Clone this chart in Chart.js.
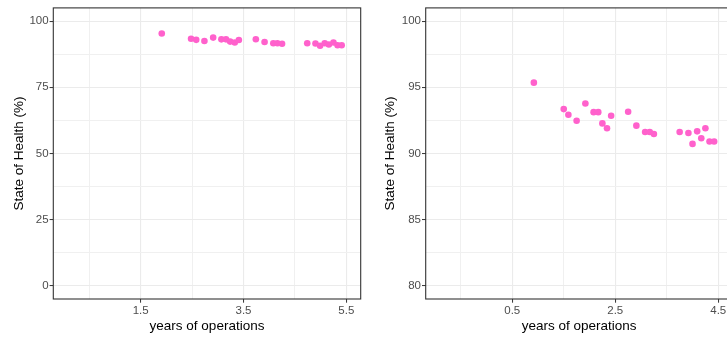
<!DOCTYPE html>
<html>
<head>
<meta charset="utf-8">
<script src="https://cdn.jsdelivr.net/npm/chart.js@4/dist/chart.umd.min.js"></script>
<style>
    html, body { margin: 0; padding: 0; background: #fff; overflow: hidden; }
    .panel { position: absolute; top: 0; height: 339px; }
    #leftPanel { left: 0; width: 364px; }
    #rightPanel { left: 364px; width: 372px; }
</style>
</head>
<body>
<div class="panel" id="leftPanel"><canvas id="leftChart"></canvas></div>
<div class="panel" id="rightPanel"><canvas id="rightChart"></canvas></div>
<script>
// years of operations
const leftYears = [1.91, 2.48, 2.58, 2.74, 2.91, 3.07, 3.16, 3.24, 3.33, 3.41, 3.74, 3.91,
    4.08, 4.16, 4.25, 4.74, 4.90, 4.99, 5.08, 5.16, 5.25, 5.33, 5.41];
const rightYears = [0.92, 1.50, 1.59, 1.75, 1.92, 2.08, 2.17, 2.25, 2.34, 2.42, 2.75, 2.91,
    3.08, 3.17, 3.25, 3.75, 3.92, 4.00, 4.09, 4.17, 4.25, 4.33, 4.42];
// state of health (%)
const soh = [95.35, 93.35, 92.93, 92.47, 93.78, 93.12, 93.12, 92.27, 91.90, 92.85, 93.15, 92.10,
    91.62, 91.62, 91.47, 91.62, 91.55, 90.72, 91.67, 91.15, 91.90, 90.90, 90.90];

const leftXMajor = [1.5, 3.5, 5.5], leftXMinor = [0.5, 2.5, 4.5];
const leftYMajor = [0, 25, 50, 75, 100], leftYMinor = [12.5, 37.5, 62.5, 87.5];
const rightXMajor = [0.5, 2.5, 4.5], rightXMinor = [-0.5, 1.5, 3.5];
const rightYMajor = [80, 85, 90, 95, 100], rightYMinor = [82.5, 87.5, 92.5, 97.5];

const pointColor = '#FF61CC';
const fontFamily = '"Liberation Sans", Arial, sans-serif';

// panel border drawn on top, like ggplot's theme_bw
const panelBorder = {
    id: 'panelBorder',
    afterDraw(chart) {
        const a = chart.chartArea;
        const ctx = chart.ctx;
        ctx.save();
        ctx.strokeStyle = '#333333';
        ctx.lineWidth = 1.1;
        ctx.strokeRect(a.left, a.top, a.right - a.left, a.bottom - a.top);
        ctx.restore();
    }
};

function axis(opts) {
    const { min, max, major, minor, title, titlePad, size, horizontal } = opts;
    return {
        type: 'linear',
        position: horizontal ? 'bottom' : 'left',
        min, max,
        afterBuildTicks: scale => {
            scale.ticks = major.map(v => ({ value: v }))
                .concat(minor.map(v => ({ value: v, minor: true })))
                .sort((a, b) => a.value - b.value);
        },
        afterFit: scale => {
            if (horizontal) scale.height = size; else scale.width = size;
        },
        ticks: {
            autoSkip: false,
            maxRotation: 0,
            padding: 1,
            color: '#4d4d4d',
            font: { family: fontFamily, size: 11.5 },
            callback: v => (minor.includes(v) ? '' : String(v))
        },
        grid: {
            drawTicks: true,
            tickLength: 3.7,
            tickWidth: 1,
            tickColor: ctx => (ctx.tick && ctx.tick.minor ? 'rgba(0,0,0,0)' : '#333333'),
            color: ctx => (ctx.tick && ctx.tick.minor ? '#f0f0f0' : '#ebebeb'),
            lineWidth: ctx => (ctx.tick && ctx.tick.minor ? 1 : 1.1)
        },
        border: { display: false },
        title: {
            display: true,
            text: title,
            color: '#000000',
            font: { family: fontFamily, size: 13.5, lineHeight: 1.2 },
            padding: horizontal ? { top: 0, bottom: titlePad } : { top: titlePad, bottom: 0 }
        }
    };
}

function makeChart(id, years, cfg) {
    new Chart(document.getElementById(id), {
        type: 'scatter',
        data: {
            datasets: [{
                data: years.map((x, i) => ({ x, y: soh[i] })),
                backgroundColor: pointColor,
                borderWidth: 0,
                pointRadius: 3.3,
                pointHoverRadius: 3.3
            }]
        },
        options: {
            responsive: true,
            maintainAspectRatio: false,
            animation: false,
            events: [],
            layout: { padding: { top: 5.7, right: 2.3, left: 0, bottom: 0 } },
            plugins: { legend: { display: false }, tooltip: { enabled: false } },
            scales: {
                x: axis({ min: cfg.xMin, max: cfg.xMax, major: cfg.xMajor, minor: cfg.xMinor,
                    title: 'years of operations', titlePad: 4.9, size: 40, horizontal: true }),
                y: axis({ min: cfg.yMin, max: cfg.yMax, major: cfg.yMajor, minor: cfg.yMinor,
                    title: 'State of Health (%)', titlePad: cfg.yTitlePad, size: cfg.yWidth, horizontal: false })
            }
        },
        plugins: [panelBorder]
    });
}

makeChart('leftChart', leftYears, {
    xMin: -0.2, xMax: 5.78, xMajor: leftXMajor, xMinor: leftXMinor,
    yMin: -5, yMax: 105, yMajor: leftYMajor, yMinor: leftYMinor,
    yWidth: 53.3, yTitlePad: 10.9
});

makeChart('rightChart', rightYears, {
    xMin: -1.18, xMax: 4.78, xMajor: rightXMajor, xMinor: rightXMinor,
    yMin: 79, yMax: 101, yMajor: rightYMajor, yMinor: rightYMinor,
    yWidth: 61.7, yTitlePad: 18.6
});
</script>
</body>
</html>
